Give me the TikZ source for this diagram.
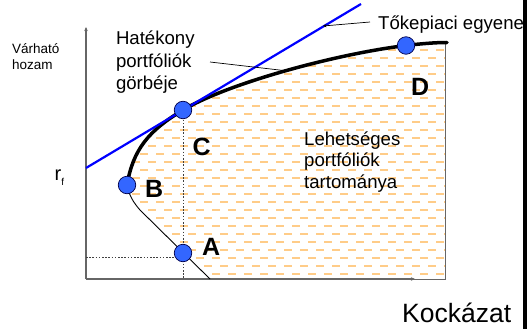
\documentclass[tikz,border=0pt]{standalone}
\usepackage{fontspec}
\setmainfont{Liberation Sans}
\usetikzlibrary{arrows.meta}
\definecolor{dotblue}{RGB}{51,102,255}
\definecolor{hatchor}{RGB}{255,204,136}
\definecolor{cmlblue}{RGB}{0,0,255}
\newcommand\feasregion{(127,185) .. controls (129,195) and (133,202) .. (140,210) -- (210,279) -- (445,279) -- (445,43) -- (447,42.5) .. controls (435,42.5) and (420,43.8) .. (406,45.5) .. controls (336,54) and (228,83.2) .. (183,110) .. controls (148,131) and (133,150) .. (127,185) -- cycle}
\begin{document}
\begin{tikzpicture}[x=1pt,y=-1pt,
  lbl/.style={anchor=base west, inner sep=0, font=\fontsize{18.6}{22}\selectfont},
  smalllbl/.style={anchor=base west, inner sep=0, font=\fontsize{13.5}{16}\selectfont},
  letter/.style={anchor=base west, inner sep=0, font=\fontsize{25}{30}\selectfont\bfseries},
  bigdot/.style={circle, fill=dotblue, draw=black!70!blue, line width=0.7pt, minimum size=17.5pt, inner sep=0},
  frontier/.style={line width=3.5pt, line cap=round},
  axisline/.style={draw=black!60, line width=1.2pt},
  guide/.style={draw=black!75, line width=0.9pt, dash pattern=on 1.6pt off 1.6pt},
  pointer/.style={line width=0.7pt, -{Stealth[length=3.5pt,width=3pt]}},
  hatchrow/.style={draw=hatchor, line width=2pt, dash pattern=on 8pt off 8pt}
]
\useasboundingbox (0,0) rectangle (527,329);
% key points
\coordinate (pA) at (183,253);
\coordinate (pB) at (127,185);
\coordinate (pC) at (183,110);
\coordinate (pD) at (406,45.5);
\coordinate (fEnd) at (447,42.5);
\coordinate (kink) at (140,210);
\coordinate (lowEnd) at (210,279);
\coordinate (origin) at (86,279);
\coordinate (yTip) at (86,27);
\coordinate (xTip) at (415,279);
\coordinate (boxBR) at (445,279);
\coordinate (boxTR) at (445,43);
\coordinate (cmlStart) at (86,168);
\coordinate (cmlEnd) at (361,4);
\coordinate (cFoot) at (183,279);
\coordinate (aLeft) at (86,257);
\coordinate (aRight) at (183,257);
% feasible region with hatching
\begin{scope}
  \clip \feasregion;
  \fill[white] (80,0) rectangle (460,290);
  \foreach \k in {2,...,17}{
    \draw[hatchrow] (84,2+16*\k) -- (460,2+16*\k);
    \draw[hatchrow] (92,10+16*\k) -- (460,10+16*\k);
  }
\end{scope}
\draw[axisline, line width=1pt] (lowEnd) -- (boxBR) -- (boxTR);
% axes
\draw[axisline, -{Stealth[length=4pt,width=3.5pt]}] (origin) -- (yTip);
\draw[axisline, -{Stealth[length=4pt,width=3.5pt]}] (origin) -- (xTip);
% guides
\draw[guide] (pC) -- (cFoot);
\draw[guide] (aLeft) -- (aRight);
% lower boundary
\draw[line width=0.9pt] (pB) .. controls (129,195) and (133,202) .. (kink) -- (lowEnd);
% efficient frontier
\draw[frontier] (pB) .. controls (133,150) and (148,131) .. (pC)
  .. controls (228,83.2) and (336,54) .. (pD)
  .. controls (420,43.8) and (435,42.5) .. (fEnd);
% capital market line
\draw[cmlblue, line width=2.2pt] (cmlStart) -- (cmlEnd);
% portfolio dots
\node[bigdot] (A) at (pA) {};
\node[bigdot] (B) at (pB) {};
\node[bigdot] (C) at (pC) {};
\node[bigdot] (D) at (pD) {};
% letters
\node[letter] (lA) at (202,255) {A};
\node[letter] (lB) at (145,197) {B};
\node[letter] (lC) at (192.5,155) {C};
\node[letter] (lD) at (411,95) {D};
% labels
\node[smalllbl] (v1) at (12,53) {Várható};
\node[smalllbl] (v2) at (12,70) {hozam};
\node[anchor=base west, inner sep=0, font=\fontsize{20}{22}\selectfont] (rf) at (54.5,180) {r\raisebox{-5pt}{\fontsize{10}{12}\selectfont f}};
\node[lbl] (h1) at (115.8,45) {Hatékony};
\node[lbl] (h2) at (115.8,67) {portfóliók};
\node[lbl] (h3) at (115.8,89) {görbéje};
\node[lbl] (l1) at (304,145) {Lehetséges};
\node[lbl] (l2) at (304,166.5) {portfóliók};
\node[lbl] (l3) at (304,188) {tartománya};
\node[lbl] (tk) at (378,30) {Tőkepiaci egyene};
\node[anchor=base west, inner sep=0, font=\fontsize{26.5}{30}\selectfont] (kock) at (402,322) {Kockázat};
% pointers
\coordinate (hatTail) at (210,62);
\coordinate (hatTip) at (288,71);
\coordinate (tkTail) at (370,22);
\coordinate (tkTip) at (323,26);
\draw[pointer] (hatTail) -- (hatTip);
\draw[pointer] (tkTail) -- (tkTip);
% right edge bar
\fill[black] (523.3,0) rectangle (527,329);
\end{tikzpicture}
\end{document}
